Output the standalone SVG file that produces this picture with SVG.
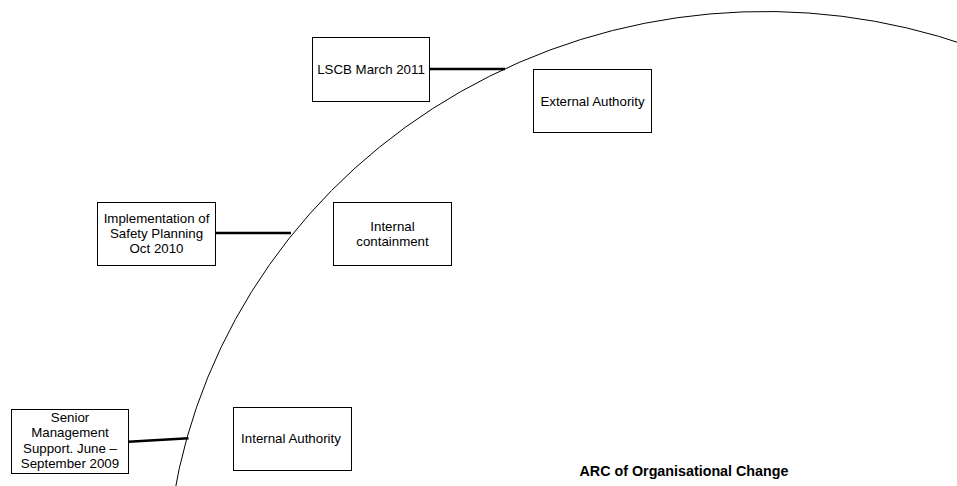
<svg xmlns="http://www.w3.org/2000/svg" width="957" height="486" viewBox="0 0 957 486">
<style>
.box{fill:#fff;stroke:#000;stroke-width:1}
.t{font-family:"Liberation Sans",Arial,sans-serif;font-size:13.3px;fill:#000;text-anchor:middle}
.title{font-family:"Liberation Sans",Arial,sans-serif;font-size:14.3px;font-weight:bold;fill:#000;text-anchor:middle}
.conn{stroke:#000;stroke-width:2.6;fill:none}
.arc{stroke:#000;stroke-width:1;fill:none}
</style>
<rect width="957" height="486" fill="#fff"/>
<path class="arc" d="M173.2,500 A599,578 0 0 1 970,46.4"/>
<g id="connectors">
<line class="conn" x1="429.5" y1="69" x2="505" y2="69"/>
<line class="conn" x1="215.5" y1="233" x2="291" y2="233"/>
<line class="conn" x1="128.5" y1="441.8" x2="188.5" y2="438.3"/>
</g>
<g id="lscb">
<rect class="box" x="312.5" y="37.5" width="117" height="64"/>
<text class="t" x="371" y="73.5">LSCB March 2011</text>
</g>
<g id="external-authority">
<rect class="box" x="533.5" y="69.5" width="118" height="63"/>
<text class="t" x="592.5" y="105.5">External Authority</text>
</g>
<g id="implementation">
<rect class="box" x="97.5" y="202.5" width="118" height="63"/>
<text class="t" x="156.5" y="222.7">Implementation of</text>
<text class="t" x="156.5" y="238">Safety Planning</text>
<text class="t" x="156.5" y="253.3">Oct 2010</text>
</g>
<g id="internal-containment">
<rect class="box" x="333.5" y="202.5" width="118" height="63"/>
<text class="t" x="392.5" y="230.5">Internal</text>
<text class="t" x="392.5" y="246.3">containment</text>
</g>
<g id="senior-management">
<rect class="box" x="11.5" y="409.5" width="117" height="64"/>
<text class="t" x="70" y="421.7">Senior</text>
<text class="t" x="70" y="437.2">Management</text>
<text class="t" x="70" y="452.5">Support. June –</text>
<text class="t" x="70" y="467.8">September 2009</text>
</g>
<g id="internal-authority">
<rect class="box" x="233.5" y="407.5" width="118" height="63"/>
<text class="t" x="291" y="442.5">Internal Authority</text>
</g>
<g id="title">
<text class="title" x="684" y="476">ARC of Organisational Change</text>
</g>
</svg>
